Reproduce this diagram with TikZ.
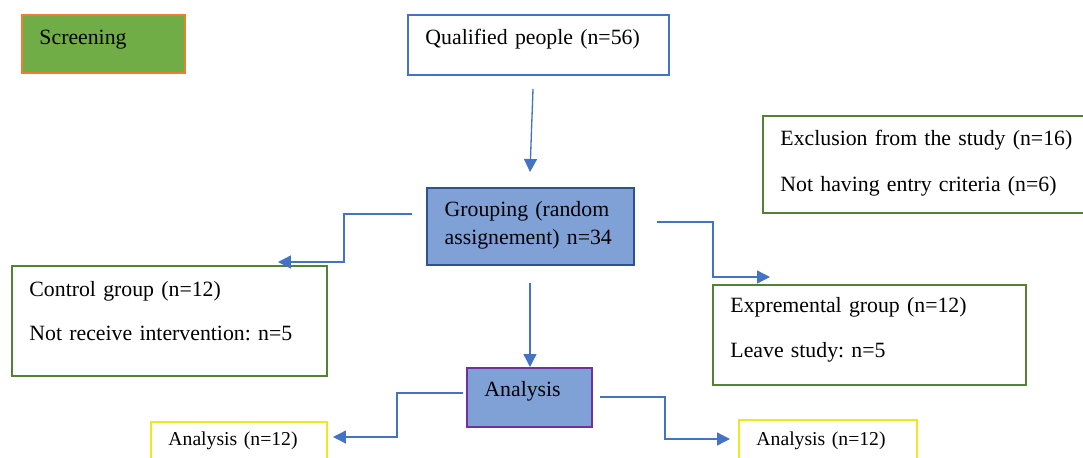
\documentclass[tikz,border=0pt]{standalone}
\usepackage{fontspec}
\setmainfont{Liberation Serif}
\usepackage{tikz}
\usetikzlibrary{arrows.meta}
\definecolor{screengreen}{RGB}{112, 173, 71}
\definecolor{screenorange}{RGB}{237, 125, 49}
\definecolor{theme}{RGB}{68, 114, 196}
\definecolor{boxgreen}{RGB}{84, 130, 53}
\definecolor{groupfill}{RGB}{127, 161, 214}
\definecolor{groupline}{RGB}{47, 82, 143}
\definecolor{anapurple}{RGB}{112, 48, 160}
\definecolor{anayellow}{RGB}{238, 232, 30}

\tikzset{
  box/.style={draw, line width=1.1pt, anchor=north west, align=left,
    inner xsep=0.35cm, inner ysep=0pt},
  arr/.style={draw=theme, line width=0.75pt, -{Triangle[length=0.26cm, width=0.26cm]}}
}

\frenchspacing
\begin{document}
\begin{tikzpicture}[x=0.02cm, y=-0.02cm, font=\fontsize{12.4}{15}\selectfont]
        \useasboundingbox (0,0) rectangle (1083,457);
        \clip (0,0) rectangle (1083,457);

        % boxes
        \node[box, draw=screenorange, fill=screengreen, text width=2.56cm, text height=0.6cm, text depth=0.56cm] (screen) at (21,14) {Screening};

        \node[box, draw=theme, text width=4.52cm, text height=0.6cm, text depth=0.6cm] (qualified) at (407,14) {Qualified people (n=56)};

        \node[box, draw=boxgreen, text width=6.06cm, text height=0.6cm, text depth=1.34cm] (exclusion) at (762,115) {Exclusion from the study (n=16)\\[11pt] Not having entry criteria (n=6)};

        \node[box, draw=groupline, line width=1.3pt, fill=groupfill, text width=3.44cm, text height=0.56cm, text depth=0.98cm] (grouping) at (426,187) {Grouping (random\\[1pt] assignement) n=34};

        \node[box, draw=boxgreen, text width=5.6cm, text height=0.62cm, text depth=1.58cm] (control) at (11,265) {Control group (n=12)\\[9.5pt] Not receive intervention: n=5};

        \node[box, draw=boxgreen, text width=5.56cm, text height=0.56cm, text depth=1.44cm] (exper) at (712,284) {Expremental group (n=12)\\[10.6pt] Leave study: n=5};

        \node[box, draw=anapurple, fill=groupfill, text width=1.8cm, text height=0.58cm, text depth=0.6cm] (analysis) at (466,367) {Analysis};

        \node[box, draw=anayellow, font=\fontsize{11.2}{13}\selectfont, text width=2.82cm, text height=0.48cm, text depth=0.8cm] (analeft) at (150,421) {Analysis (n=12)};

        \node[box, draw=anayellow, font=\fontsize{11.2}{13}\selectfont, text width=2.86cm, text height=0.52cm, text depth=0.8cm] (anaright) at (738,419) {Analysis (n=12)};

        % arrow ends
        \coordinate (q1) at (533,89);
        \coordinate (q2) at (530,172);
        \coordinate (gl1) at (412,214);
        \coordinate (gl2) at (278,262);
        \coordinate (gr1) at (657,222);
        \coordinate (gr2) at (770,277);
        \coordinate (gd1) at (530,283);
        \coordinate (gd2) at (530,367);
        \coordinate (al1) at (463,393);
        \coordinate (al2) at (333,437);
        \coordinate (ar1) at (600,397);
        \coordinate (ar2) at (730,439);

        \draw[arr] (q1) -- (q2);
        \draw[arr] (gl1) -- ++(-68,0) |- (gl2);
        \draw[arr] (gr1) -- ++(56,0) |- (gr2);
        \draw[arr] (gd1) -- (gd2);
        \draw[arr] (al1) -- ++(-66,0) |- (al2);
        \draw[arr] (ar1) -- ++(65,0) |- (ar2);
\end{tikzpicture}
\end{document}
